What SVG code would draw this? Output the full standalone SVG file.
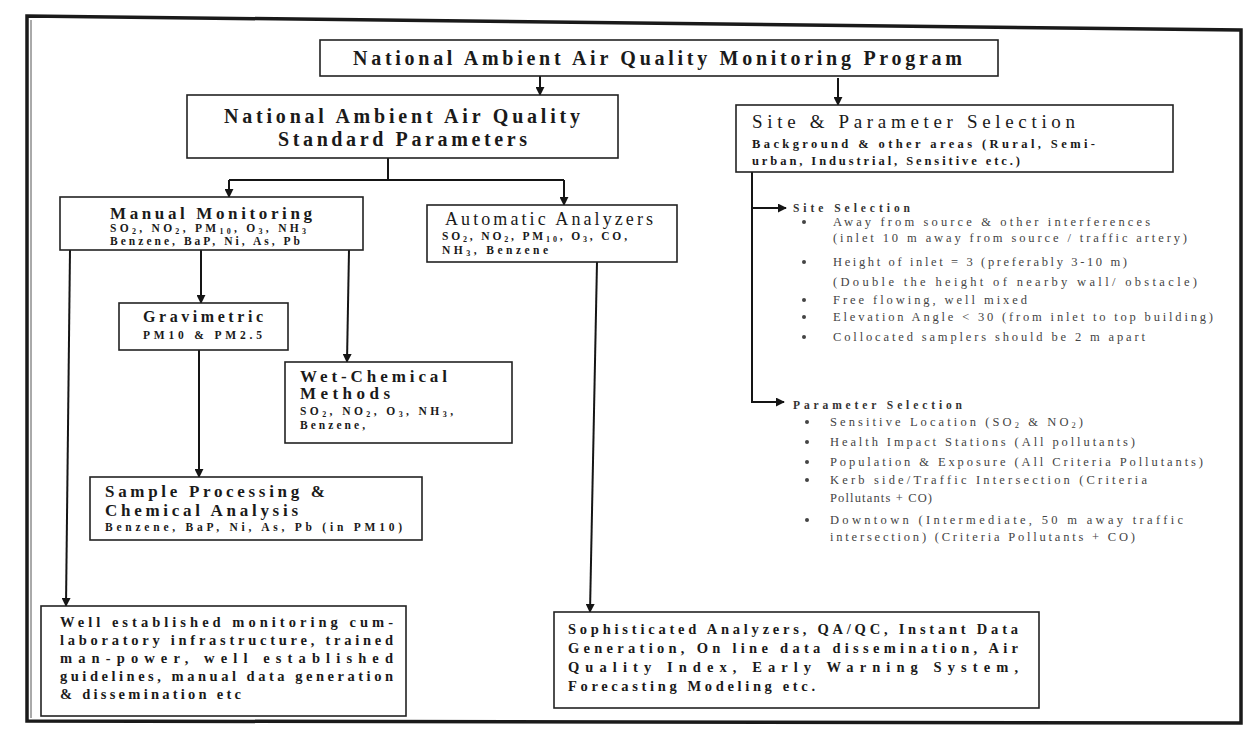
<svg xmlns="http://www.w3.org/2000/svg" width="1248" height="731" viewBox="0 0 1248 731">
<style>
.box{fill:#fff;stroke:#222;stroke-width:1.6}
.t{font-family:"Liberation Serif","Times New Roman",serif;fill:#1a1a1a}
.h{font-size:20px;font-weight:bold}
.m{font-size:17px;font-weight:bold}
.sm{font-size:11.5px;font-weight:bold}
.p{font-size:14.5px;font-weight:bold}
.li{font-size:12.5px;fill:#444}
.lh{font-size:11.5px;font-weight:bold;fill:#333}
.bul{fill:#444}
.c{stroke:#151515;stroke-width:2;fill:none}
</style>
<defs>
<marker id="ah" viewBox="0 0 10 10" refX="9" refY="5" markerWidth="9" markerHeight="9" markerUnits="userSpaceOnUse" orient="auto">
<path d="M0,0 L10,5 L0,10 Z" fill="#151515"/>
</marker>
</defs>
<rect width="1248" height="731" fill="#fff"/>
<path d="M27,16 L1241,30 L1241,723 L27,721 Z" fill="none" stroke="#1a1a1a" stroke-width="3.5"/>
<line x1="31" y1="20" x2="31" y2="718" stroke="#555" stroke-width="1"/>

<g id="connectors">
<line class="c" x1="540" y1="76" x2="540" y2="95" marker-end="url(#ah)"/>
<line class="c" x1="838" y1="78" x2="838" y2="105" marker-end="url(#ah)"/>
<polyline class="c" points="388,158 388,180"/>
<line class="c" x1="229" y1="180" x2="564" y2="180"/>
<line class="c" x1="229" y1="180" x2="229" y2="197" marker-end="url(#ah)"/>
<line class="c" x1="564" y1="180" x2="564" y2="205" marker-end="url(#ah)"/>
<line class="c" x1="70" y1="250" x2="66" y2="606" stroke-width="2.6" marker-end="url(#ah)"/>
<line class="c" x1="201" y1="250" x2="201" y2="303" marker-end="url(#ah)"/>
<line class="c" x1="349" y1="250" x2="347" y2="362" stroke-width="4.5" marker-end="url(#ah)"/>
<line class="c" x1="199" y1="350" x2="199" y2="477" marker-end="url(#ah)"/>
<line class="c" x1="597" y1="262" x2="590" y2="612" marker-end="url(#ah)"/>
<polyline class="c" points="752,172 752,402 784,402" marker-end="url(#ah)"/>
<line class="c" x1="752" y1="208" x2="786" y2="208" marker-end="url(#ah)"/>
</g>

<g id="n-program">
<rect class="box" x="320" y="40" width="678" height="36"/>
<text class="t h" x="353" y="65" textLength="609" lengthAdjust="spacing">National Ambient Air Quality Monitoring Program</text>
</g>

<g id="n-naaqs">
<rect class="box" x="187" y="95" width="431" height="63"/>
<text class="t h" x="224" y="123" textLength="356" lengthAdjust="spacing">National Ambient Air Quality</text>
<text class="t h" x="278" y="146" textLength="249" lengthAdjust="spacing">Standard Parameters</text>
</g>

<g id="n-site">
<rect class="box" x="736" y="105" width="437" height="67"/>
<text class="t" font-size="19" x="752" y="128" textLength="323" lengthAdjust="spacing">Site &amp; Parameter Selection</text>
<text class="t" font-size="12.5" font-weight="bold" x="752" y="148" textLength="343" lengthAdjust="spacing">Background &amp; other areas (Rural, Semi-</text>
<text class="t" font-size="12.5" font-weight="bold" x="752" y="165" textLength="268" lengthAdjust="spacing">urban, Industrial, Sensitive etc.)</text>
</g>

<g id="n-manual">
<rect class="box" x="60" y="197" width="303" height="53"/>
<text class="t m" x="110" y="219" textLength="202" lengthAdjust="spacing">Manual Monitoring</text>
<text class="t sm" x="110" y="232" textLength="196" lengthAdjust="spacing">SO<tspan font-size="8" dy="2">2</tspan><tspan dy="-2">, NO</tspan><tspan font-size="8" dy="2">2</tspan><tspan dy="-2">, PM</tspan><tspan font-size="8" dy="2">10</tspan><tspan dy="-2">, O</tspan><tspan font-size="8" dy="2">3</tspan><tspan dy="-2">, NH</tspan><tspan font-size="8" dy="2">3</tspan></text>
<text class="t sm" x="110" y="245" textLength="190" lengthAdjust="spacing">Benzene, BaP, Ni, As, Pb</text>
</g>

<g id="n-automatic">
<rect class="box" x="427" y="205" width="250" height="57"/>
<text class="t" font-size="18" x="445" y="225" textLength="208" lengthAdjust="spacing">Automatic Analyzers</text>
<text class="t sm" x="442" y="240" textLength="185" lengthAdjust="spacing">SO<tspan font-size="8" dy="2">2</tspan><tspan dy="-2">, NO</tspan><tspan font-size="8" dy="2">2</tspan><tspan dy="-2">, PM</tspan><tspan font-size="8" dy="2">10</tspan><tspan dy="-2">, O</tspan><tspan font-size="8" dy="2">3</tspan><tspan dy="-2">, CO,</tspan></text>
<text class="t sm" x="442" y="254" textLength="106" lengthAdjust="spacing">NH<tspan font-size="8" dy="2">3</tspan><tspan dy="-2">, Benzene</tspan></text>
</g>

<g id="n-gravimetric">
<rect class="box" x="119" y="303" width="169" height="47"/>
<text class="t" font-size="16" font-weight="bold" x="143" y="322" textLength="120" lengthAdjust="spacing">Gravimetric</text>
<text class="t sm" x="143" y="339" textLength="119" lengthAdjust="spacing">PM10 &amp; PM2.5</text>
</g>

<g id="n-wetchem">
<rect class="box" x="285" y="362" width="227" height="81"/>
<text class="t m" x="300" y="382" textLength="147" lengthAdjust="spacing">Wet-Chemical</text>
<text class="t m" x="300" y="399" textLength="90" lengthAdjust="spacing">Methods</text>
<text class="t sm" x="300" y="415" textLength="153" lengthAdjust="spacing">SO<tspan font-size="8" dy="2">2</tspan><tspan dy="-2">, NO</tspan><tspan font-size="8" dy="2">2</tspan><tspan dy="-2">, O</tspan><tspan font-size="8" dy="2">3</tspan><tspan dy="-2">, NH</tspan><tspan font-size="8" dy="2">3</tspan><tspan dy="-2">,</tspan></text>
<text class="t sm" x="300" y="429" textLength="65" lengthAdjust="spacing">Benzene,</text>
</g>

<g id="n-sample">
<rect class="box" x="90" y="477" width="332" height="63"/>
<text class="t m" x="105" y="497" textLength="220" lengthAdjust="spacing">Sample Processing &amp;</text>
<text class="t m" x="105" y="516" textLength="193" lengthAdjust="spacing">Chemical Analysis</text>
<text class="t sm" x="105" y="531" textLength="297" lengthAdjust="spacing">Benzene, BaP, Ni, As, Pb (in PM10)</text>
</g>

<g id="n-site-list">
<text class="t lh" x="793" y="212" textLength="117" lengthAdjust="spacing">Site Selection</text>
<circle class="bul" cx="804" cy="222" r="2"/>
<circle class="bul" cx="804" cy="262" r="2"/>
<circle class="bul" cx="804" cy="300" r="2"/>
<circle class="bul" cx="804" cy="317" r="2"/>
<circle class="bul" cx="804" cy="337" r="2"/>
<text class="t li" x="833" y="226" textLength="317" lengthAdjust="spacing">Away from source &amp; other interferences</text>
<text class="t li" x="833" y="242" textLength="354" lengthAdjust="spacing">(inlet 10 m away from source / traffic artery)</text>
<text class="t li" x="833" y="266" textLength="294" lengthAdjust="spacing">Height of inlet = 3 (preferably 3-10 m)</text>
<text class="t li" x="833" y="286" textLength="364" lengthAdjust="spacing">(Double the height of nearby wall/ obstacle)</text>
<text class="t li" x="833" y="304" textLength="194" lengthAdjust="spacing">Free flowing, well mixed</text>
<text class="t li" x="833" y="321" textLength="380" lengthAdjust="spacing">Elevation Angle &lt; 30 (from inlet to top building)</text>
<text class="t li" x="833" y="341" textLength="312" lengthAdjust="spacing">Collocated samplers should be 2 m apart</text>
</g>

<g id="n-param-list">
<text class="t lh" x="793" y="409" textLength="169" lengthAdjust="spacing">Parameter Selection</text>
<circle class="bul" cx="807" cy="422" r="2"/>
<circle class="bul" cx="807" cy="442" r="2"/>
<circle class="bul" cx="807" cy="462" r="2"/>
<circle class="bul" cx="807" cy="480" r="2"/>
<circle class="bul" cx="807" cy="520" r="2"/>
<text class="t li" x="830" y="426" textLength="253" lengthAdjust="spacing">Sensitive Location (SO<tspan font-size="8.5" dy="2">2</tspan><tspan dy="-2"> &amp; NO</tspan><tspan font-size="8.5" dy="2">2</tspan><tspan dy="-2">)</tspan></text>
<text class="t li" x="830" y="446" textLength="305" lengthAdjust="spacing">Health Impact Stations (All pollutants)</text>
<text class="t li" x="830" y="466" textLength="373" lengthAdjust="spacing">Population &amp; Exposure (All Criteria Pollutants)</text>
<text class="t li" x="830" y="484" textLength="317" lengthAdjust="spacing">Kerb side/Traffic Intersection (Criteria</text>
<text class="t li" x="830" y="502" textLength="102" lengthAdjust="spacing">Pollutants + CO)</text>
<text class="t li" x="830" y="524" textLength="353" lengthAdjust="spacing">Downtown (Intermediate, 50 m away traffic</text>
<text class="t li" x="830" y="541" textLength="305" lengthAdjust="spacing">intersection) (Criteria Pollutants + CO)</text>
</g>

<g id="n-manual-outcome">
<rect class="box" x="41" y="606" width="365" height="110"/>
<text class="t p" x="60" y="627" textLength="333" lengthAdjust="spacing">Well established monitoring cum-</text>
<text class="t p" x="60" y="645" textLength="333" lengthAdjust="spacing">laboratory infrastructure, trained</text>
<text class="t p" x="60" y="663" textLength="333" lengthAdjust="spacing">man-power, well established</text>
<text class="t p" x="60" y="681" textLength="333" lengthAdjust="spacing">guidelines, manual data generation</text>
<text class="t p" x="60" y="699" textLength="181" lengthAdjust="spacing">&amp; dissemination etc</text>
</g>

<g id="n-auto-outcome">
<rect class="box" x="554" y="612" width="485" height="96"/>
<text class="t p" x="568" y="634" textLength="450" lengthAdjust="spacing">Sophisticated Analyzers, QA/QC, Instant Data</text>
<text class="t p" x="568" y="653" textLength="450" lengthAdjust="spacing">Generation, On line data dissemination, Air</text>
<text class="t p" x="568" y="672" textLength="450" lengthAdjust="spacing">Quality Index, Early Warning System,</text>
<text class="t p" x="568" y="691" textLength="247" lengthAdjust="spacing">Forecasting Modeling etc.</text>
</g>
</svg>
